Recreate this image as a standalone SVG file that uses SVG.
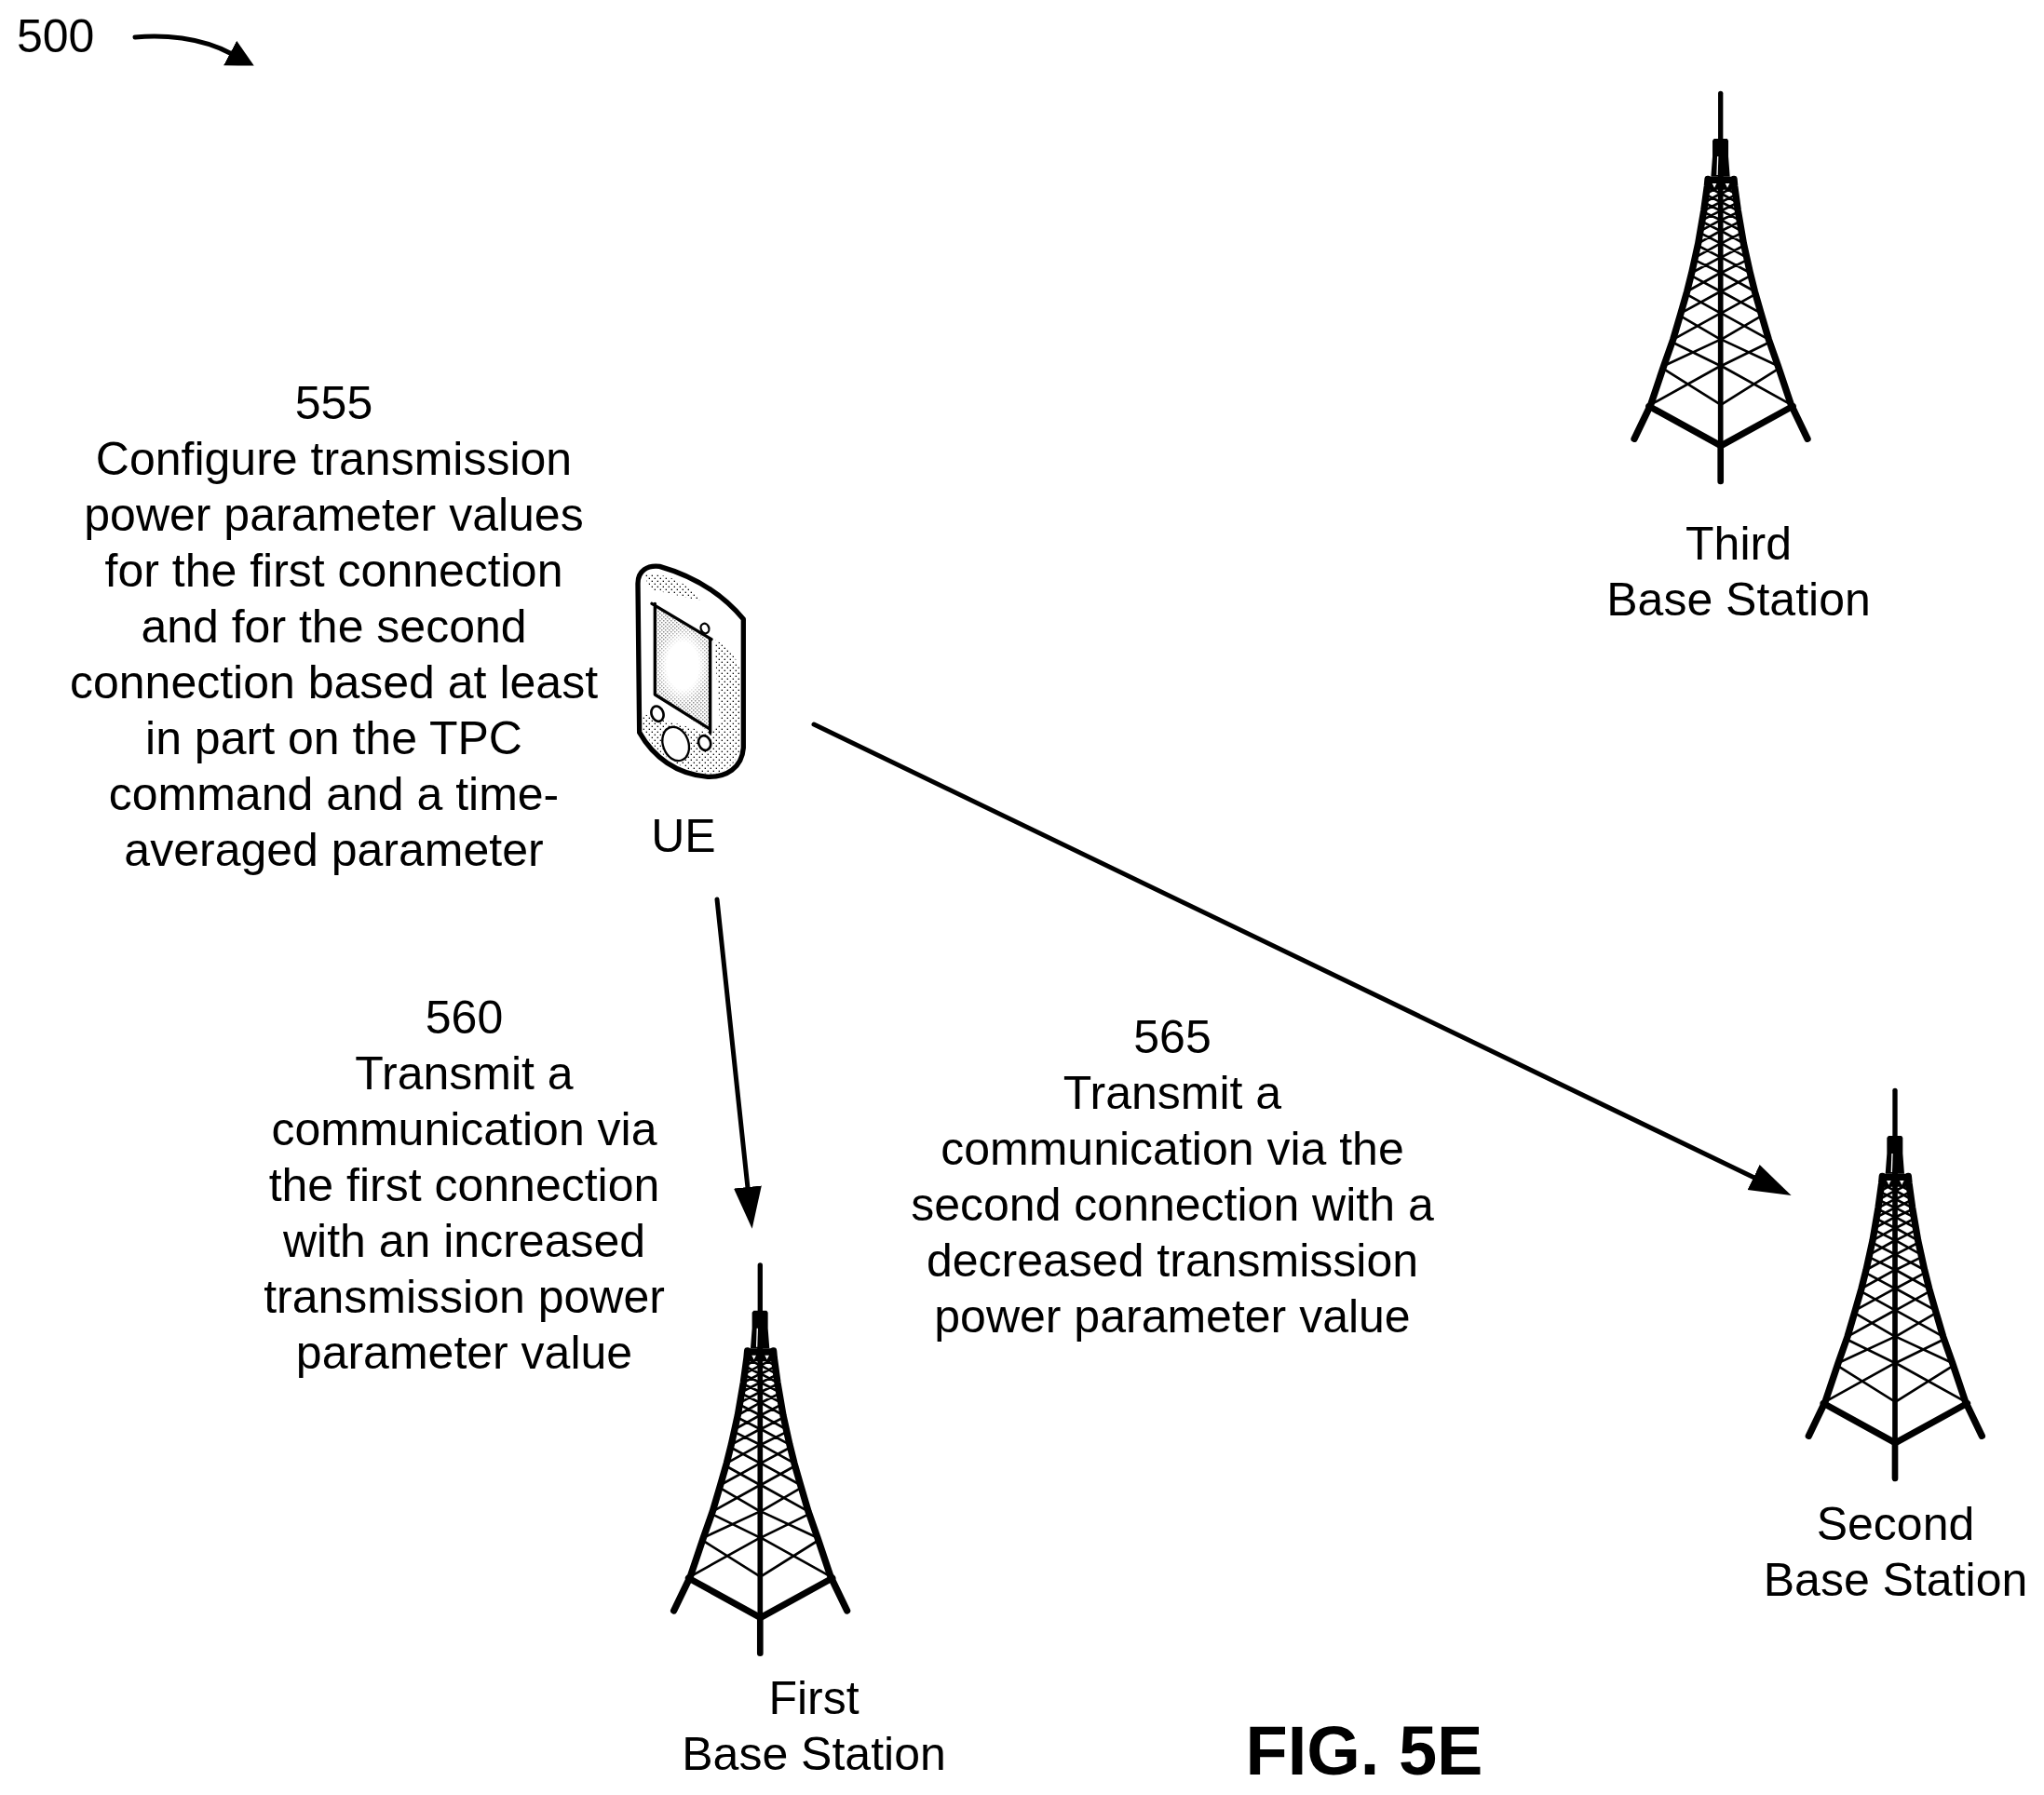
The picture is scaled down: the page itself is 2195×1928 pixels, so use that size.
<svg xmlns="http://www.w3.org/2000/svg" xmlns:xlink="http://www.w3.org/1999/xlink" width="2195" height="1928" viewBox="0 0 2195 1928">
<style>
text{font-family:"Liberation Sans",Arial,sans-serif;font-size:50px;fill:#000;text-anchor:middle}
.conn{fill:none;stroke:#000;stroke-width:5;stroke-linecap:round}
.k{fill:none;stroke:#000;stroke-linecap:round;stroke-linejoin:round}
</style>
<defs>
<marker id="ah" markerUnits="userSpaceOnUse" markerWidth="46" markerHeight="32" refX="1" refY="15" orient="auto"><path d="M0 0L45 15L0 30Z" fill="#000"/></marker>
<marker id="ah2" markerUnits="userSpaceOnUse" markerWidth="32" markerHeight="32" refX="1" refY="15" orient="auto"><path d="M0 0L29 15L0 30Z" fill="#000"/></marker>
<pattern id="dots" width="12" height="12" patternUnits="userSpaceOnUse"><rect x="1" y="1" width="3" height="3" fill="#000"/><rect x="7" y="7" width="3" height="3" fill="#000"/></pattern>
<pattern id="sparse" width="18" height="18" patternUnits="userSpaceOnUse"><rect x="2" y="2" width="4" height="4" fill="#000"/><rect x="11" y="11" width="4" height="4" fill="#000"/></pattern>
<radialGradient id="fade"><stop offset="0" stop-color="#fff"/><stop offset=".6" stop-color="#fff"/><stop offset="1" stop-color="#fff" stop-opacity="0"/></radialGradient>
<g id="half">
<path class="k" stroke-width="8" d="M128 1065L353 940M170 950L353 1065M170 940L353 855M200 865L353 940M200 855L353 770M225 780L353 855M225 770L353 700M245 710L353 770M245 700L353 640M260 650L353 700"/>
<path class="k" stroke-width="8" d="M260 640L353 590M272 600L353 640M272 590L353 545M281 553L353 590M281 545L353 505M288 512L353 545M288 505L353 470M294 476L353 505M294 470L353 440M299 445L353 470M299 440L353 412M303 416L353 440M303 412L353 385M307 389L353 412M307 385L353 360M310 362L353 385"/>
<path class="k" stroke-width="22" d="M312 338L310 360L299 440L281 545L260 640L245 700L225 770L200 855L170 940L128 1065L75 1175"/>
<path class="k" stroke-width="21" stroke-linecap="butt" d="M122 1070L353 1197"/>
</g>
<g id="tower" transform="translate(-353 -55)">
<use href="#half"/>
<use href="#half" transform="matrix(-1 0 0 1 708 0)"/>
<path class="k" stroke-width="16" d="M353 62V330"/>
<path class="k" stroke-width="17" d="M353 330V1195"/>
<path class="k" stroke-width="20" d="M353 1190V1312"/>
<path d="M332 208H374L378 214V265L383 330H322L327 265V214Z" fill="#000"/>
<path d="M342 265L340 325H344L346 265Z" fill="#fff"/>
<path d="M306 330H400L404 372H302Z" fill="#000"/>
<path d="M326 352H340L333 366ZM368 352H382L375 366Z" fill="#fff"/>
</g>
</defs>
<rect width="2195" height="1928" fill="#fff"/>

<g id="connectors">
<path class="conn" d="M145 40C175 37 215 40 248 57.5" marker-end="url(#ah2)"/>
<path class="conn" d="M770 966L803 1276" marker-end="url(#ah)"/>
<path class="conn" d="M874 778L1884 1265" marker-end="url(#ah)"/>
</g>

<g id="ref-500"><text x="18" y="56" style="text-anchor:start">500</text></g>

<g id="step-555">
<text x="358.5" y="450">555</text>
<text x="358.5" y="510">Configure transmission</text>
<text x="358.5" y="570">power parameter values</text>
<text x="358.5" y="630">for the first connection</text>
<text x="358.5" y="690">and for the second</text>
<text x="358.5" y="750">connection based at least</text>
<text x="358.5" y="810">in part on the TPC</text>
<text x="358.5" y="870">command and a time-</text>
<text x="358.5" y="930">averaged parameter</text>
</g>

<g id="ue">
<g transform="translate(660 590) scale(.3333)">
<path id="ue-body" d="M75 110C75 70 105 50 145 55C250 85 340 135 415 225V640C410 705 360 735 300 733C200 725 125 670 80 590Z" fill="#fff"/>
<path d="M90 80C150 70 250 110 275 165L120 130Z" fill="url(#sparse)"/>
<path d="M320 290C345 300 400 340 405 400V640C395 695 350 725 300 725C220 715 130 660 90 580V530L300 590L340 560Z" fill="url(#sparse)"/>
<path d="M125 175L310 290L307 590L130 468Z" fill="url(#dots)"/>
<ellipse cx="220" cy="375" rx="85" ry="125" fill="url(#fade)"/>
<path class="k" stroke-width="16" d="M75 110C75 70 105 50 145 55C250 85 340 135 415 225V640C410 705 360 735 300 733C200 725 125 670 80 590Z"/>
<path class="k" stroke-width="10" stroke-linecap="butt" d="M120 175L312 290M130 175V468L305 578M308 288V592"/>
<ellipse cx="291" cy="255" rx="13" ry="16" transform="rotate(-20 291 255)" fill="#fff" stroke="#000" stroke-width="7"/>
<ellipse cx="138" cy="530" rx="19" ry="25" transform="rotate(-20 138 530)" fill="#fff" stroke="#000" stroke-width="8"/>
<ellipse cx="197" cy="627" rx="41" ry="56" transform="rotate(-20 197 627)" fill="#fff" stroke="#000" stroke-width="7"/>
<ellipse cx="290" cy="624" rx="19" ry="24" transform="rotate(-20 290 624)" fill="#fff" stroke="#000" stroke-width="8"/>
</g>
<text x="734" y="915">UE</text>
</g>

<g id="step-560">
<text x="498.5" y="1110">560</text>
<text x="498.5" y="1170">Transmit a</text>
<text x="498.5" y="1230">communication via</text>
<text x="498.5" y="1290">the first connection</text>
<text x="498.5" y="1350">with an increased</text>
<text x="498.5" y="1410">transmission power</text>
<text x="498.5" y="1470">parameter value</text>
</g>

<g id="step-565">
<text x="1259" y="1131">565</text>
<text x="1259" y="1191">Transmit a</text>
<text x="1259" y="1251">communication via the</text>
<text x="1259" y="1311">second connection with a</text>
<text x="1259" y="1371">decreased transmission</text>
<text x="1259" y="1431">power parameter value</text>
</g>

<g id="third-base-station">
<g transform="translate(1847.7 98) scale(.3333)"><use href="#tower"/></g>
<text x="1867" y="600.5">Third</text>
<text x="1867" y="660.5">Base Station</text>
</g>

<g id="second-base-station">
<g transform="translate(2035 1169) scale(.3333)"><use href="#tower"/></g>
<text x="2035.5" y="1654">Second</text>
<text x="2035.5" y="1714">Base Station</text>
</g>

<g id="first-base-station">
<g transform="translate(816.3 1356.7) scale(.3333)"><use href="#tower"/></g>
<text x="874" y="1840.5">First</text>
<text x="874" y="1900.5">Base Station</text>
</g>

<g id="figure-label"><text x="1465" y="1906" style="font-size:74px;font-weight:bold">FIG. 5E</text></g>
</svg>
